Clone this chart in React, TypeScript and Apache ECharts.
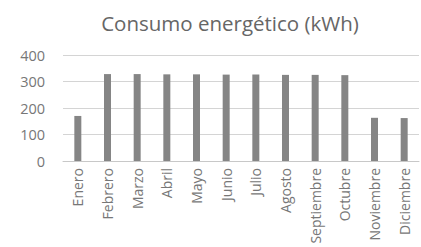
import React, { useEffect, useRef } from "react";
import * as echarts from "echarts";

const categories = ["Enero", "Febrero", "Marzo", "Abril", "Mayo", "Junio", "Julio", "Agosto", "Septiembre", "Octubre", "Noviembre", "Diciembre"];
const consumo = [170, 328, 328, 327, 327, 326, 326, 325, 325, 324, 163, 162];
const yTicks = [0, 100, 200, 300, 400];

export default function App() {
  const ref = useRef<HTMLDivElement>(null);
  useEffect(() => {
    if (!ref.current) return;
    const chart = echarts.init(ref.current, null, { renderer: "svg" });
    chart.setOption({
      animation: false,
      backgroundColor: "#ffffff",
      title: {
        text: "Consumo energético (kWh)",
        left: 225,
        top: 7,
        textAlign: "center",
        textStyle: { fontFamily: "Open Sans", fontSize: 20.5, fontWeight: "normal", color: "#666666" },
      },
      grid: { left: 63, right: 2, top: 55, bottom: 86 },
      xAxis: {
        type: "category",
        data: categories,
        axisLine: { lineStyle: { color: "#c8c8c8" } },
        axisTick: { show: false },
        axisLabel: { rotate: 90, fontFamily: "Open Sans", fontSize: 14, color: "#777777", margin: 7 },
      },
      yAxis: {
        type: "value",
        min: yTicks[0],
        max: yTicks[yTicks.length - 1],
        interval: 100,
        axisLabel: { fontFamily: "Open Sans", fontSize: 14.5, color: "#777777", margin: 18 },
        splitLine: { lineStyle: { color: "#d4d4d4" } },
        axisLine: { show: false },
        axisTick: { show: false },
      },
      series: [
        {
          type: "bar",
          data: consumo,
          barWidth: 7,
          itemStyle: { color: "#858585" },
        },
      ],
    });
    return () => chart.dispose();
  }, []);
  return <div ref={ref} style={{ position: "fixed", left: 0, top: 0, width: 421, height: 247 }} />;
}
